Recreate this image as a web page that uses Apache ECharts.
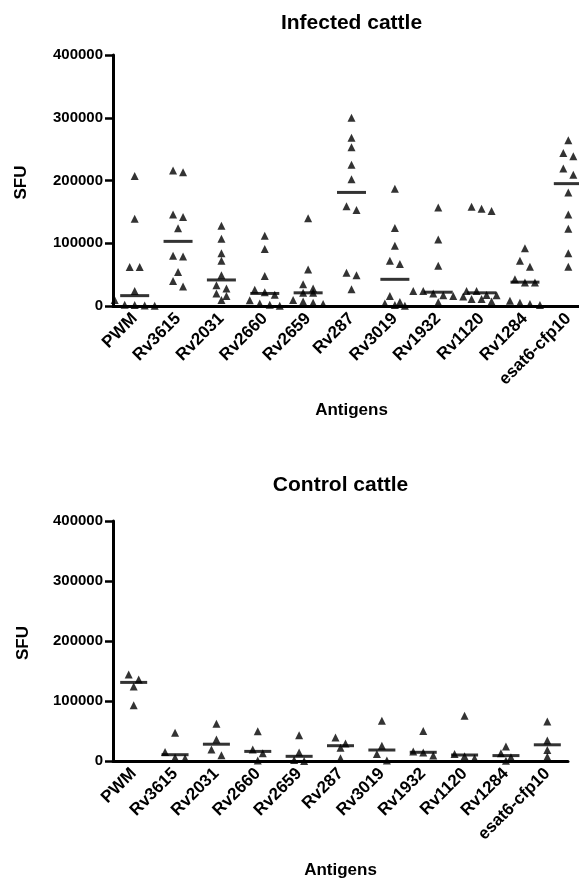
<!DOCTYPE html>
<html>
<head>
<meta charset="utf-8">
<script src="https://cdn.jsdelivr.net/npm/echarts@6/dist/echarts.min.js"></script>
<style>
html, body { margin: 0; padding: 0; background: #fff; }
#myChart { width: 579px; height: 885px; }
</style>
</head>
<body>
<div id="myChart"></div>
<script>
// antigens on the x axis (same for both panels)
var antigens = ['PWM', 'Rv3615', 'Rv2031', 'Rv2660', 'Rv2659', 'Rv287', 'Rv3019', 'Rv1932', 'Rv1120', 'Rv1284', 'esat6-cfp10'];
var yTicks = [0, 100000, 200000, 300000, 400000];

// infected cattle, SFU per animal, one list per antigen
var infectedValues = [
    [207000, 139000, 62000, 62000, 24000, 9500, 2000, 1500, 800, 500],
    [216000, 213000, 146000, 142000, 124000, 80000, 79000, 54000, 40000, 31000],
    [128000, 107000, 84000, 72000, 49000, 33000, 28000, 20000, 16000, 9500],
    [112000, 91000, 48000, 26000, 22000, 18000, 9000, 4000, 2000, 500],
    [140000, 58000, 34500, 28000, 21000, 21000, 9500, 7000, 5000, 3000],
    [300000, 268000, 253000, 225000, 202000, 159000, 153000, 53000, 49000, 26500],
    [187000, 124500, 96000, 72000, 67000, 16000, 6500, 4000, 1500, 500],
    [157000, 106000, 64000, 24000, 24000, 20000, 17000, 16000, 15000, 6000],
    [158000, 155000, 151500, 24000, 24000, 17500, 17000, 11000, 11000, 7000],
    [92000, 72000, 62500, 42500, 37600, 37600, 8500, 5000, 3000, 1500],
    [264000, 244000, 238500, 219000, 209000, 181000, 146000, 123000, 84000, 62500]
];
var infectedMedian = [16500, 103000, 41500, 20000, 21000, 181000, 42500, 22000, 21000, 38000, 195000];

// control cattle
var controlValues = [
    [144000, 136000, 124000, 93000],
    [47000, 15000, 6000, 4500],
    [62000, 36000, 19000, 9500],
    [49500, 19000, 13000, 1000],
    [43000, 14000, 1500, 0],
    [39000, 29000, 22000, 4500],
    [67000, 25500, 11700, 1000],
    [50000, 16000, 14000, 9000],
    [75500, 11700, 7800, 4400],
    [24000, 12800, 6100, 500],
    [66000, 34000, 18300, 7200]
];
var controlMedian = [131000, 10500, 28000, 16000, 7800, 25500, 18300, 14500, 10000, 9000, 27000];

var FONT = "'Liberation Sans', Arial, sans-serif";
var yMax = 400000;

var panels = [
    { title: 'Infected cattle', values: infectedValues, median: infectedMedian,
      left: 113, right: -11, top: 55, height: 251, lineW: 29, titleY: 23, sfuX: 21, antY: 410 },
    { title: 'Control cattle', values: controlValues, median: controlMedian,
      left: 113, right: 11, top: 521, height: 240, lineW: 27, titleY: 485, sfuX: 23, antY: 870 }
];

// side-by-side placement of points that would overlap (like the prism dot plot)
function dotPositions(values, col, valueGap, step) {
    var sorted = values.slice().sort(function (a, b) { return b - a; });
    var rows = [];
    sorted.forEach(function (v) {
        var row = rows[rows.length - 1];
        if (row && row[0] - v < valueGap) row.push(v);
        else rows.push([v]);
    });
    var out = [];
    rows.forEach(function (row) {
        row.forEach(function (v, j) {
            out.push([col + (j - (row.length - 1) / 2) * step, v]);
        });
    });
    return out;
}

var myChart = echarts.init(document.getElementById('myChart'));

var grids = [], xAxes = [], yAxes = [], series = [], graphics = [];
panels.forEach(function (p, i) {
    var width = 579 - p.left - p.right;
    var band = width / antigens.length;
    var valueGap = 6.5 * yMax / p.height;
    var step = 10 / band;

    grids.push({ left: p.left, right: p.right, top: p.top, height: p.height, outerBoundsMode: 'none' });

    xAxes.push({
        type: 'category', gridIndex: i, data: antigens,
        axisLine: { onZero: false, lineStyle: { color: '#000', width: 3 } },
        axisTick: { alignWithLabel: true, length: 8, lineStyle: { color: '#000', width: 2.5 } },
        axisLabel: { rotate: 45, margin: 10, color: '#000', fontWeight: 'bold', fontSize: 17, fontFamily: FONT, interval: 0 },
        splitLine: { show: false }
    });
    xAxes.push({
        type: 'value', gridIndex: i, min: -0.5, max: antigens.length - 0.5, show: false
    });

    yAxes.push({
        type: 'value', gridIndex: i, min: yTicks[0], max: yTicks[yTicks.length - 1], interval: 100000,
        axisLine: { show: true, onZero: false, lineStyle: { color: '#000', width: 3 } },
        axisTick: { show: true, length: 8, lineStyle: { color: '#000', width: 2.5 } },
        axisLabel: { margin: 10, color: '#000', fontWeight: 'bold', fontSize: 15, fontFamily: FONT,
            formatter: function (v) { return String(v); } },
        splitLine: { show: false }
    });

    var pts = [];
    p.values.forEach(function (vals, c) {
        pts = pts.concat(dotPositions(vals, c, valueGap, step));
    });
    series.push({
        type: 'scatter', xAxisIndex: i * 2 + 1, yAxisIndex: i,
        symbol: 'triangle', symbolSize: 8,
        itemStyle: { color: '#000' },
        data: pts, z: 3
    });
    series.push({
        type: 'scatter', xAxisIndex: i * 2 + 1, yAxisIndex: i,
        symbol: 'rect', symbolSize: [p.lineW, 3],
        itemStyle: { color: '#000' },
        data: p.median.map(function (m, c) { return [c, m]; }), z: 4
    });

    var cx = p.left + width / 2;
    graphics.push({
        type: 'text', x: cx, y: p.titleY,
        style: { text: p.title, fill: '#000', font: 'bold 21px ' + FONT, textAlign: 'center', textVerticalAlign: 'middle' }
    });
    graphics.push({
        type: 'text', x: p.sfuX, y: p.top + p.height / 2 + 2, rotation: Math.PI / 2,
        style: { text: 'SFU', fill: '#000', font: 'bold 17px ' + FONT, textAlign: 'center', textVerticalAlign: 'middle' }
    });
    graphics.push({
        type: 'text', x: cx, y: p.antY,
        style: { text: 'Antigens', fill: '#000', font: 'bold 17px ' + FONT, textAlign: 'center', textVerticalAlign: 'middle' }
    });
});

var option = {
    animation: false,
    backgroundColor: '#fff',
    grid: grids,
    xAxis: xAxes,
    yAxis: yAxes,
    series: series,
    graphic: graphics
};
myChart.setOption(option);
</script>
</body>
</html>
